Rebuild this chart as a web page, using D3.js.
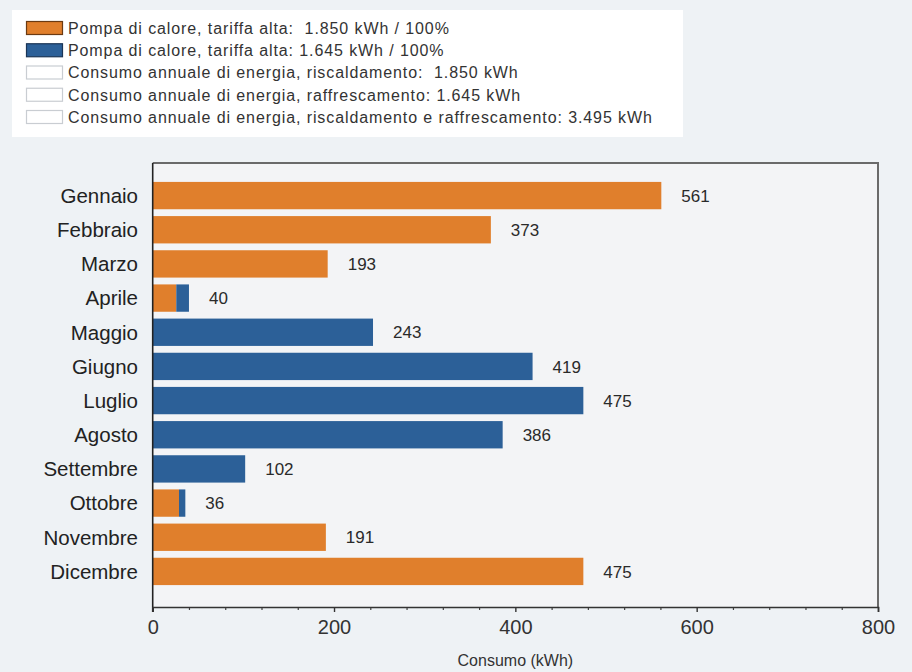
<!DOCTYPE html>
<html>
<head>
<meta charset="utf-8">
<script src="https://cdn.jsdelivr.net/npm/d3@7"></script>
<style>
  html, body { margin: 0; padding: 0; background: #EEF2F5; }
  svg { display: block; font-family: "Liberation Sans", Arial, sans-serif; }
  .legend-text { white-space: pre; }
</style>
</head>
<body>
<svg id="chart" width="912" height="672"></svg>
<script>
// Monthly energy use of the heat pump (kWh), split into heating and cooling
const months = ["Gennaio", "Febbraio", "Marzo", "Aprile", "Maggio", "Giugno",
                "Luglio", "Agosto", "Settembre", "Ottobre", "Novembre", "Dicembre"];
const heating = [561, 373, 193, 26, 0, 0, 0, 0, 0, 29, 191, 475];
const cooling = [0, 0, 0, 14, 243, 419, 475, 386, 102, 7, 0, 0];
const seriesKeys = ["heating", "cooling"];
const seriesColors = ["#E07F2C", "#2C6098"];
const seriesBorders = ["#6B3A12", "#1B3556"];
const legendLabels = [
  "Pompa di calore, tariffa alta:  1.850 kWh / 100%",
  "Pompa di calore, tariffa alta: 1.645 kWh / 100%",
  "Consumo annuale di energia, riscaldamento:  1.850 kWh",
  "Consumo annuale di energia, raffrescamento: 1.645 kWh",
  "Consumo annuale di energia, riscaldamento e raffrescamento: 3.495 kWh"
];
const majorTicks = [0, 200, 400, 600, 800];
const minorStep = 40;
const xMax = 800;
const axisTitle = "Consumo (kWh)";

const svg = d3.select("#chart");

// ---- legend ----
const legend = svg.append("g");
legend.append("rect")
  .attr("x", 12).attr("y", 10).attr("width", 671).attr("height", 127)
  .attr("fill", "#FFFFFF");
const rowY = d3.scalePoint().domain(d3.range(legendLabels.length)).range([28, 117]);
const lg = legend.selectAll("g.item").data(legendLabels).join("g")
  .attr("class", "item")
  .attr("transform", (d, i) => `translate(0,${rowY(i)})`);
lg.append("rect")
  .attr("x", 26.5).attr("y", -6.5).attr("width", 36).attr("height", 13)
  .attr("fill", (d, i) => i < 2 ? seriesColors[i] : "#FFFFFF")
  .attr("stroke", (d, i) => i < 2 ? seriesBorders[i] : "#C9CDD2")
  .attr("stroke-width", 1.2);
lg.append("text")
  .attr("class", "legend-text")
  .attr("x", 68).attr("dy", "0.36em")
  .attr("font-size", 16).attr("letter-spacing", 0.9).attr("fill", "#333")
  .text(d => d);

// ---- plot ----
const plotLeft = 152.7, plotRight = 878, plotTop = 163, plotBottom = 607;

const x = d3.scaleLinear().domain([0, xMax]).range([plotLeft, plotRight]);
const y = d3.scaleBand().domain(months).range([178.5, 588.5]).paddingInner(0.2).paddingOuter(0.1);

svg.append("rect")
  .attr("x", plotLeft).attr("y", plotTop)
  .attr("width", plotRight - plotLeft).attr("height", plotBottom - plotTop)
  .attr("fill", "#F3F4F6");

const table = months.map((m, i) => ({ month: m, heating: heating[i], cooling: cooling[i] }));
const stacked = d3.stack().keys(seriesKeys)(table);

svg.append("g").selectAll("g").data(stacked).join("g")
  .attr("fill", (d, i) => seriesColors[i])
  .selectAll("rect").data(d => d.filter(s => s[1] > s[0])).join("rect")
  .attr("x", d => x(d[0]))
  .attr("y", d => y(d.data.month))
  .attr("width", d => x(d[1]) - x(d[0]))
  .attr("height", y.bandwidth());

// value labels at the end of each bar
svg.append("g").selectAll("text").data(table).join("text")
  .attr("x", d => x(d.heating + d.cooling) + 20)
  .attr("y", d => y(d.month) + y.bandwidth() / 2)
  .attr("dy", "0.36em")
  .attr("font-size", 17).attr("fill", "#2A2A2A")
  .text(d => d.heating + d.cooling);

// month labels
svg.append("g").selectAll("text").data(months).join("text")
  .attr("x", 138)
  .attr("y", d => y(d) + y.bandwidth() / 2)
  .attr("dy", "0.36em")
  .attr("text-anchor", "end")
  .attr("font-size", 20.5).attr("fill", "#222")
  .text(d => d);

// frame: top and right in gray
svg.append("path")
  .attr("d", `M${plotLeft},${plotTop}H${plotRight}V${plotBottom}`)
  .attr("fill", "none").attr("stroke", "#6A6A6A").attr("stroke-width", 2);

// left axis line
svg.append("line")
  .attr("x1", plotLeft).attr("x2", plotLeft).attr("y1", plotTop).attr("y2", plotBottom + 5)
  .attr("stroke", "#222").attr("stroke-width", 1.6);

// bottom axis with major and minor ticks
const minorTicks = d3.range(0, xMax + 1, minorStep).filter(v => !majorTicks.includes(v));
const xAxisMinor = d3.axisBottom(x).tickValues(minorTicks).tickSize(3).tickFormat("");
const xAxis = d3.axisBottom(x).tickValues(majorTicks).tickSize(5).tickPadding(8).tickFormat(d3.format("d"));

const gMinor = svg.append("g").attr("transform", `translate(0,${plotBottom})`).call(xAxisMinor);
gMinor.select(".domain").remove();
gMinor.selectAll("line").attr("stroke", "#444").attr("stroke-width", 1.2);

const gx = svg.append("g").attr("transform", `translate(0,${plotBottom})`).call(xAxis);
gx.select(".domain").attr("stroke", "#333").attr("stroke-width", 1.6);
gx.selectAll("line").attr("stroke", "#333").attr("stroke-width", 1.4);
gx.selectAll("text")
  .attr("font-size", 20).attr("fill", "#333")
  .attr("font-family", "\"Liberation Sans\", Arial, sans-serif");

svg.append("text")
  .attr("x", (plotLeft + plotRight) / 2).attr("y", 666)
  .attr("text-anchor", "middle")
  .attr("font-size", 16).attr("fill", "#333")
  .text(axisTitle);
</script>
</body>
</html>
